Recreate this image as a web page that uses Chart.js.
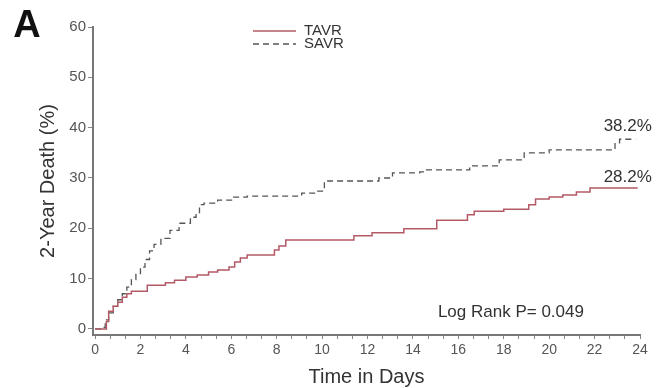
<!DOCTYPE html>
<html lang="en">
<head>
    <meta charset="UTF-8">
    <title>2-Year Death</title>
    <script src="https://cdn.jsdelivr.net/npm/chart.js"></script>
    <style>
        html, body { margin: 0; padding: 0; background: #fff; }
        #wrap { width: 660px; height: 388px; }
    </style>
</head>
<body>
    <div id="wrap"><canvas id="kmChart" width="660" height="388"></canvas></div>

    <script>
        // KM step data (time, cumulative death %)
        const tavrTime = [0, 0.35, 0.5, 0.6, 0.8, 1.0, 1.2, 1.4, 1.6, 2.3, 3.1, 3.5, 4.0, 4.5, 5.0, 5.4, 5.9, 6.15, 6.4, 6.7, 7.9, 8.1, 8.4, 11.4, 12.2, 13.6, 15.05, 16.4, 16.7, 18.0, 19.1, 19.4, 20.0, 20.6, 21.2, 21.8, 23.9];
        const tavrDeath = [0, 0, 1.5, 3.5, 4.5, 5.3, 6.3, 7.0, 7.5, 8.7, 9.2, 9.7, 10.3, 10.7, 11.3, 11.7, 12.3, 13.3, 14.1, 14.7, 15.7, 16.5, 17.7, 18.5, 19.1, 19.9, 21.6, 22.7, 23.4, 23.8, 24.7, 25.8, 26.2, 26.6, 27.2, 28.0, 28.0];

        const savrTime = [0, 0.3, 0.45, 0.6, 0.8, 1.0, 1.2, 1.4, 1.6, 1.8, 2.0, 2.2, 2.4, 2.6, 2.9, 3.3, 3.7, 4.2, 4.45, 4.6, 4.8, 5.4, 6.1, 6.7, 9.1, 9.7, 10.1, 12.5, 13.1, 14.3, 14.6, 16.5, 17.8, 18.9, 20.0, 22.9, 23.1, 23.8];
        const savrDeath = [0, 0.3, 1.8, 3.2, 4.5, 5.8, 7.0, 8.3, 9.8, 11.0, 12.3, 13.8, 15.5, 16.8, 18.0, 19.6, 21.0, 22.2, 23.1, 24.7, 25.0, 25.6, 26.2, 26.4, 27.0, 27.4, 29.4, 30.0, 31.0, 31.2, 31.6, 32.4, 33.6, 35.0, 35.6, 37.0, 37.7, 37.7];

        const endLabels = [38.2, 28.2];
        const yTicks = [0, 10, 20, 30, 40, 50, 60];
        const xMajor = [0, 2, 4, 6, 8, 10, 12, 14, 16, 18, 20, 22, 24];
        const xMinorStep = 2 / 3;

        const FONT = "'Liberation Sans', Arial, sans-serif";
        const tavrColor = "#b35a66";
        const savrColor = "#555555";

        function toPoints(xs, ys) {
            return xs.map((x, i) => ({ x: x, y: ys[i] }));
        }

        // tick values for the x axis: minor every 2/3, labels only on majors
        let xTickValues = [];
        for (let k = 0; k <= 36; k++) xTickValues.push(Math.round(k * xMinorStep * 1000) / 1000);

        // extra texts and the little legend
        const annotations = {
            id: "annotations",
            afterDraw(chart) {
                const ctx = chart.ctx;
                const xs = chart.scales.x;
                const ys = chart.scales.y;
                ctx.save();

                ctx.fillStyle = "#111";
                ctx.font = "bold 38px " + FONT;
                ctx.textAlign = "center";
                ctx.textBaseline = "alphabetic";
                ctx.fillText("A", 27, 37);

                // legend
                ctx.textBaseline = "middle";
                ctx.lineWidth = 1.5;
                ctx.strokeStyle = tavrColor;
                ctx.beginPath(); ctx.moveTo(253, 31); ctx.lineTo(296, 31); ctx.stroke();
                ctx.strokeStyle = savrColor;
                ctx.setLineDash([6, 4]);
                ctx.beginPath(); ctx.moveTo(253, 44); ctx.lineTo(296, 44); ctx.stroke();
                ctx.setLineDash([]);
                ctx.fillStyle = "#333";
                ctx.font = "15px " + FONT;
                ctx.textAlign = "left";
                ctx.fillText("TAVR", 304, 31);
                ctx.fillText("SAVR", 304, 44);

                // end percentages
                ctx.font = "17px " + FONT;
                endLabels.forEach(v => {
                    ctx.fillText(v.toFixed(1) + "%", xs.getPixelForValue(22.4), ys.getPixelForValue(v + 2));
                });

                ctx.fillText("Log Rank P= 0.049", xs.getPixelForValue(15.1), ys.getPixelForValue(3.4));
                ctx.restore();
            }
        };

        new Chart(document.getElementById("kmChart"), {
            type: "line",
            data: {
                datasets: [{
                    label: "TAVR",
                    data: toPoints(tavrTime, tavrDeath),
                    borderColor: tavrColor,
                    borderWidth: 1.5,
                    stepped: true,
                    pointRadius: 0,
                    fill: false
                }, {
                    label: "SAVR",
                    data: toPoints(savrTime, savrDeath),
                    borderColor: savrColor,
                    borderWidth: 1.3,
                    borderDash: [6, 4],
                    stepped: true,
                    pointRadius: 0,
                    fill: false
                }]
            },
            options: {
                responsive: false,
                animation: false,
                layout: { padding: { top: 27, right: 20, bottom: 0, left: 0 } },
                plugins: {
                    legend: { display: false },
                    tooltip: { enabled: false }
                },
                scales: {
                    x: {
                        type: "linear",
                        min: -0.09,
                        max: 24,
                        afterBuildTicks: s => { s.ticks = xTickValues.map(v => ({ value: v })); },
                        afterFit: s => { s.height = 53; },
                        ticks: {
                            autoSkip: false,
                            maxRotation: 0,
                            padding: 3,
                            color: "#555",
                            font: { family: FONT, size: 14 },
                            callback: v => xMajor.some(m => Math.abs(m - v) < 0.01) ? Math.round(v) : ""
                        },
                        grid: { drawOnChartArea: false, drawTicks: true, tickLength: 4, color: "#888" },
                        border: { color: "#777", width: 2 },
                        title: {
                            display: true,
                            text: "Time in Days",
                            color: "#333",
                            font: { family: FONT, size: 20 },
                            padding: { top: 0, bottom: -1 }
                        }
                    },
                    y: {
                        min: -1.2,
                        max: 60,
                        afterBuildTicks: s => { s.ticks = yTicks.map(v => ({ value: v })); },
                        afterFit: s => { s.width = 93; },
                        ticks: {
                            padding: 2,
                            color: "#555",
                            font: { family: FONT, size: 15 }
                        },
                        grid: { drawOnChartArea: false, drawTicks: true, tickLength: 5, color: "#888" },
                        border: { color: "#777", width: 2 },
                        title: {
                            display: true,
                            text: "2-Year Death (%)",
                            color: "#333",
                            font: { family: FONT, size: 20 },
                            padding: { top: 36, bottom: 0 }
                        }
                    }
                }
            },
            plugins: [annotations]
        });
    </script>
</body>
</html>
